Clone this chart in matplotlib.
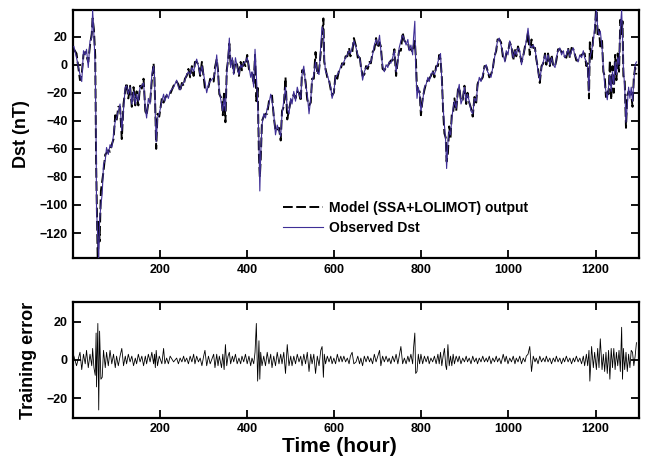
import numpy as np
import matplotlib
matplotlib.use("Agg")
import matplotlib.pyplot as plt

plt.rcParams['font.family'] = ['Liberation Sans', 'DejaVu Sans']
plt.rcParams['font.weight'] = 'bold'
plt.rcParams['axes.labelweight'] = 'bold'

# ---------------- data ----------------
hours = [
    2, 8, 16, 20, 24, 28, 31, 35, 39, 43,
    45, 48, 51, 53, 54, 57, 59, 61, 64, 67,
    70, 74, 77, 81, 85, 89, 93, 97, 100, 104,
    108, 112, 116, 120, 123, 127, 131, 135, 139, 143,
    146, 150, 154, 158, 162, 166, 169, 173, 177, 181,
    185, 187, 189, 191, 194, 198, 204, 208, 211, 215,
    219, 223, 231, 238, 242, 246, 250, 254, 257, 261,
    265, 269, 273, 277, 280, 284, 288, 292, 296, 300,
    303, 307, 311, 315, 323, 326, 330,
    333, 336, 341, 344, 347, 350, 353, 356, 359, 362,
    366, 369, 373, 377, 381, 385, 388, 392, 396, 400,
    404, 408, 411, 415, 418, 421, 424, 427, 429, 431,
    434, 438, 442, 446, 450, 454, 457, 461, 465, 469,
    473, 477, 480, 484, 488, 492, 496, 500, 503, 507,
    511, 515, 519, 523, 526, 530, 534, 538, 542, 546,
    549, 553, 557, 561, 565, 569, 572, 575, 577, 580,
    584, 588, 592, 595, 599, 603, 607, 611, 615, 618,
    622, 626, 630, 634, 637, 641, 645,
    650, 654, 658, 661, 665, 669, 673, 677, 681, 684,
    688, 692, 696, 700, 704, 707, 711, 715, 719, 723,
    726, 730, 734, 738, 742, 746, 749, 753, 757, 761,
    765, 769, 772, 776, 780, 782, 785, 787, 790, 793,
    796, 799, 803, 807, 811, 815, 818, 822, 826, 830,
    834, 838, 841, 844, 847, 850, 853, 856, 858, 861,
    864, 867, 870, 873, 876, 880, 884, 887, 891, 895,
    899, 903, 906, 910, 914, 918, 922, 926, 929, 933,
    937, 941, 945, 949, 952, 956, 960, 964, 968, 972,
    975, 979, 983,
    988, 992, 995, 999, 1003, 1007, 1011, 1015, 1018, 1022,
    1026, 1030, 1034, 1038, 1041, 1045, 1049, 1053, 1057, 1061,
    1064, 1068, 1072, 1076, 1080, 1084, 1087, 1091, 1095, 1099,
    1103, 1107, 1110, 1114, 1118, 1122, 1126, 1129, 1133, 1137,
    1141, 1145, 1149, 1152, 1156, 1160, 1164, 1168, 1172, 1175,
    1179, 1182, 1185, 1187, 1191, 1195, 1198, 1202, 1205, 1208,
    1211, 1215, 1218, 1221, 1224, 1227, 1230, 1233, 1236, 1239,
    1242, 1245, 1248, 1251, 1254, 1257, 1260, 1262, 1264, 1267,
    1270, 1273, 1276, 1279, 1282, 1285, 1288, 1291, 1294,
]

dst_observed = [
    13, 5, -7, -12, 10, 7, 11, -2, 17, 19,
    39, 21, -2, -55, -102, -126, -138, -111, -100, -92,
    -71, -68, -59, -64, -57, -59, -50, -40, -38, -33,
    -28, -47, -31, -16, -15, -21, -16, -28, -19, -28,
    -21, -26, -16, -15, -13, -31, -38, -24, -28, -7,
    -1, -7, -36, -55, -38, -35, -26, -21, -26, -21,
    -24, -19, -16, -11, -16, -18, -14, -13, -11, -7,
    -5, -7, -2, -5, 0, 4, -1, -7, -1, -7,
    -12, -20, -14, -12, -9, -6, 7,
    -7, -19, -28, -33, -24, -33, -7, 5, 19, -2,
    5, -7, 5, -2, -7, 0, -2, 1, 2, 5,
    -1, -9, -5, -16, 11, -7, -26, -55, -90, -64,
    -43, -35, -38, -31, -28, -21, -26, -35, -50, -43,
    -47, -51, -35, -26, -16, -31, -35, -24, -28, -19,
    -26, -16, -21, -24, -7, -1, -14, -21, -35, -24,
    -12, -7, 2, -5, -7, 14, 27, 24, 5, -5,
    -7, -12, -16, -24, -19, -9, -7, -5, -1, 0,
    2, 5, 7, 10, 8, 12, 17,
    12, 7, 5, 0, -11, -5, -2, -1, 1, 2,
    7, 14, 18, 14, 21, 10, -1, -5, 0, -2,
    2, 1, 5, 10, -5, 2, 12, 17, 21, 18,
    14, 18, 10, 14, 7, 19, 31, 0, -24, -16,
    -21, -33, -26, -16, -14, -9, -12, -7, -5, -7,
    -3, 2, 5, 8, -12, -31, -43, -55, -74, -55,
    -47, -50, -38, -31, -26, -31, -19, -14, -28, -24,
    -16, -26, -21, -26, -33, -35, -24, -26, -16, -9,
    -12, -7, -2, 0, -5, -7, -9, -2, 5, 12,
    17, 19, 14,
    7, 2, 10, 7, 17, 12, 5, 10, 7, 12,
    10, 0, 7, 12, 17, 26, 14, 12, 14, 11,
    5, -5, -11, -2, 2, 7, 2, 7, 0, 5,
    0, -2, 5, 10, 12, 7, 10, 5, 7, 11,
    6, 10, 12, 7, 5, 2, 7, 5, 10, 5,
    2, -2, -19, 5, 10, 17, 26, 39, 26, 21,
    24, 12, -2, -14, -19, -25, -16, -7, -19, -5,
    -14, 2, -7, 5, 0, 26, 39, 21, -2, -16,
    -41, -28, -16, -24, -16, -26, -12, 0, 2,
]

training_error = [
    2, -3, 4, -5, 3, -2, 5, -4, 3, -3,
    6, -4, -8, 14, -14, 19, -26, 15, -10, -9,
    5, -4, 4, -3, 5, -2, 3, -4, 2, -3,
    2, 6, -3, 2, -2, 3, -1, 2, -3, 1,
    -2, 3, -1, 2, -3, 2, -2, 3, -1, 4,
    -2, 3, -4, 5, -3, 2, -2, 6, -2, 1,
    -2, 2, -1, 1, -2, 1, -1, 2, -1, 1,
    -2, 2, -1, 3, -2, 2, -1, 1, -3, 2,
    5, -3, 2, -2, 3, -4, 3,
    -3, 2, -4, 3, -5, 8, -3, 2, 4, -2,
    2, -1, 3, -2, 1, -2, 2, -1, 3, -2,
    2, -3, 1, -2, 4, 19, -11, 10, -10, 4,
    -3, 2, -3, 4, -2, 3, -4, 2, -3, 4,
    -2, 3, -2, 4, -7, 8, -3, 2, -3, 2,
    -2, 3, -1, 2, -3, 3, -2, 4, -6, 3,
    -2, 3, -7, 2, -3, 5, 7, -9, 3, -2,
    2, -1, 2, -2, 1, -2, 3, -1, 2, -1,
    2, -1, 1, -2, 2, 4, -2,
    -1, 2, -2, 1, -3, 2, -1, 2, -1, 1,
    -2, 3, -1, 2, 5, -3, 2, -1, 2, -1,
    1, -2, 2, -1, 3, -2, 2, 7, -2, 1,
    -2, 2, -1, 3, -2, 6, 14, -7, -6, 3,
    -2, 3, -2, 2, -1, 2, -2, 1, -1, 2,
    -2, 3, -2, 4, -3, 2, 6, -3, -5, 8,
    -3, 2, -3, 3, -2, 2, -1, 2, -2, 1,
    -1, 2, -1, 1, -2, 2, -1, 1, -2, 1,
    -1, 2, -1, 1, -1, 2, -2, 1, -1, 2,
    -1, 1, -2,
    3, -1, 2, -2, 1, -1, 2, -2, 1, -1,
    2, -2, 1, -1, 2, 3, 7, -6, 2, -1,
    1, -2, 2, -1, 1, -1, 2, -1, 1, -2,
    1, -1, 2, -1, 1, -2, 1, -1, 2, -1,
    1, -2, 1, -1, 2, -1, 1, -2, 2, -3,
    3, -3, 5, -11, 7, -4, 4, -5, 6, -4,
    11, -5, 3, -6, 4, -7, 5, -10, 6, -4,
    6, -5, 4, -3, 5, -6, 17, -10, 6, -5,
    4, -6, 3, -4, 5, 4, -3, 2, 9,
]

assert len(hours) == len(dst_observed) == len(training_error)

x_ticks = [200, 400, 600, 800, 1000, 1200]
dst_ticks = [20, 0, -20, -40, -60, -80, -100, -120]
err_ticks = [20, 0, -20]

h = np.array(hours)
obs = np.array(dst_observed, dtype=float)
err = np.array(training_error, dtype=float)
model = obs - err  # error = observed - model

# ---------------- figure ----------------
fig = plt.figure(figsize=(6.48, 4.61), dpi=100)
ax1 = fig.add_axes([0.1127, 0.4397, 0.8735, 0.5386])
ax2 = fig.add_axes([0.1127, 0.0940, 0.8735, 0.2503])

obs_color = '#3f2f96'

ax1.plot(h, model, color='black', lw=1.4, ls=(0, (5, 1.8)),
         label='Model (SSA+LOLIMOT) output', zorder=2)
ax1.plot(h, obs, color=obs_color, lw=0.8, label='Observed Dst', zorder=3)
ax1.set_xlim(0, 1300)
ax1.set_ylim(-138, 39)
ax1.set_xticks(x_ticks)
ax1.set_yticks(dst_ticks)
ax1.set_ylabel('Dst (nT)', fontsize=13, labelpad=7)
ax1.legend(loc='lower left', bbox_to_anchor=(0.371, 0.093), frameon=False,
           fontsize=10, handlelength=2.9, handletextpad=0.4, borderpad=0,
           borderaxespad=0, labelspacing=0.45)

ax2.plot(h, err, color='black', lw=0.6)
ax2.set_xlim(0, 1300)
ax2.set_ylim(-30, 30)
ax2.set_xticks(x_ticks)
ax2.set_yticks(err_ticks)
ax2.set_ylabel('Training error', fontsize=13, labelpad=7)
ax2.set_xlabel('Time (hour)', fontsize=15, labelpad=1, x=0.47)

for ax in (ax1, ax2):
    ax.tick_params(direction='in', top=True, right=True, length=6,
                   width=1.3, labelsize=9, pad=4)
    for s in ax.spines.values():
        s.set_linewidth(1.6)

fig.savefig('out.png', dpi=100)
